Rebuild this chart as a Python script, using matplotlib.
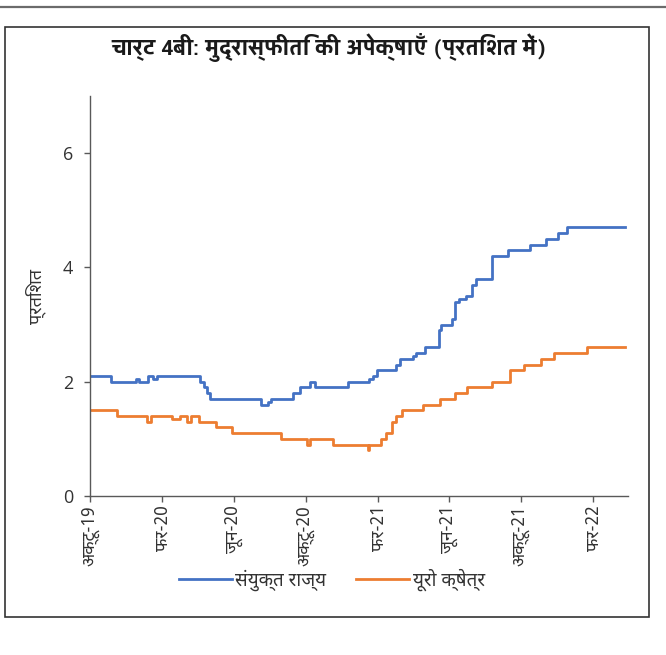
import matplotlib
matplotlib.use("Agg")
import matplotlib.pyplot as plt
from matplotlib import font_manager
from matplotlib.patches import Rectangle
import pandas as pd

# step-wise inflation expectations, dates where the value changes
us_dates = ["2019-10-01", "2019-11-06", "2019-12-18", "2019-12-23", "2020-01-08", "2020-01-16",
            "2020-01-23", "2020-04-05", "2020-04-11", "2020-04-17", "2020-04-21", "2020-07-18",
            "2020-07-29", "2020-08-03", "2020-09-10", "2020-09-21", "2020-10-09", "2020-10-17",
            "2020-12-11", "2021-01-17", "2021-01-23", "2021-01-30", "2021-03-04", "2021-03-10",
            "2021-04-01", "2021-04-07", "2021-04-21", "2021-05-15", "2021-05-19", "2021-06-06",
            "2021-06-12", "2021-06-19", "2021-06-30", "2021-07-10", "2021-07-17", "2021-08-14",
            "2021-09-09", "2021-10-17", "2021-11-13", "2021-12-04", "2021-12-19", "2022-03-27"]
us_vals = [2.1, 2.0, 2.05, 2.0, 2.1, 2.05, 2.1, 2.0, 1.9, 1.8, 1.7, 1.6, 1.65, 1.7, 1.8, 1.9,
           2.0, 1.9, 2.0, 2.05, 2.1, 2.2, 2.3, 2.4, 2.45, 2.5, 2.6, 2.9, 3.0, 3.1, 3.4, 3.45,
           3.5, 3.7, 3.8, 4.2, 4.3, 4.4, 4.5, 4.6, 4.7, 4.7]

ea_dates = ["2019-10-01", "2019-11-16", "2020-01-05", "2020-01-13", "2020-02-17", "2020-03-02",
            "2020-03-14", "2020-03-21", "2020-04-03", "2020-05-01", "2020-05-29", "2020-08-20",
            "2020-10-03", "2020-10-08", "2020-11-16", "2021-01-14", "2021-01-17", "2021-02-05",
            "2021-02-15", "2021-02-25", "2021-03-04", "2021-03-14", "2021-04-18", "2021-05-17",
            "2021-06-11", "2021-07-02", "2021-08-14", "2021-09-13", "2021-10-07", "2021-11-04",
            "2021-11-26", "2022-01-22", "2022-03-27"]
ea_vals = [1.5, 1.4, 1.3, 1.4, 1.35, 1.4, 1.3, 1.4, 1.3, 1.2, 1.1, 1.0, 0.9, 1.0, 0.9, 0.8,
           0.9, 1.0, 1.1, 1.3, 1.4, 1.5, 1.6, 1.7, 1.8, 1.9, 2.0, 2.2, 2.3, 2.4, 2.5, 2.6, 2.6]

tick_dates = ["2019-10-01", "2020-02-01", "2020-06-01", "2020-10-01",
              "2021-02-01", "2021-06-01", "2021-10-01", "2022-02-01"]
tick_labels = ["अक्टू-19", "फर-20", "जून-20", "अक्टू-20",
               "फर-21", "जून-21", "अक्टू-21", "फर-22"]
series_names = ["संयुक्त राज्य", "यूरो क्षेत्र"]
title = "चार्ट 4बी: मुद्रास्फीति की अपेक्षाएँ (प्रतिशत में)"
ylabel = "प्रतिशत"

# pick fonts that have Devanagari glyphs
installed = {f.name for f in font_manager.fontManager.ttflist}
deva = next((n for n in ["Noto Sans Devanagari", "Hind", "Mukta", "Yantramanav"]
             if n in installed), "DejaVu Sans")
deva_bold = next((n for n in ["Yantramanav", "Hind", "Mukta"] if n in installed), deva)
plt.rcParams["font.family"] = ["Open Sans", deva, "DejaVu Sans"]

fig = plt.figure(figsize=(6.66, 6.55), dpi=100)

# page rule and chart frame
fig.add_artist(plt.Line2D([0, 1], [1 - 6.5 / 655, 1 - 6.5 / 655], transform=fig.transFigure,
                          color="#6b6b6b", lw=1.6))
fig.add_artist(Rectangle((5 / 666, 1 - 617 / 655), 644 / 666, 590 / 655,
                         transform=fig.transFigure, fill=False, ec="#333333", lw=1.2))

ax = fig.add_axes([90 / 666, 1 - 496 / 655, 538 / 666, 400 / 655])

us_x = pd.to_datetime(us_dates)
ea_x = pd.to_datetime(ea_dates)
ax.step(us_x, us_vals, where="post", color="#4472C4", lw=2.0, label=series_names[0])
ax.step(ea_x, ea_vals, where="post", color="#ED7D31", lw=2.0, label=series_names[1])

ax.set_xlim(pd.Timestamp("2019-10-01"), pd.Timestamp("2022-04-01"))
ax.set_ylim(0, 7)
ax.set_yticks([0, 2, 4, 6])
ax.set_xticks(pd.to_datetime(tick_dates))
ax.set_xticklabels(tick_labels, rotation=90, family=[deva, "DejaVu Sans"], fontsize=12.5)

for s in ["top", "right"]:
    ax.spines[s].set_visible(False)
for s in ["left", "bottom"]:
    ax.spines[s].set_color("#595959")
    ax.spines[s].set_linewidth(1.0)
ax.tick_params(axis="both", colors="#595959", labelcolor="#333333", length=4, width=1.0)
ax.tick_params(axis="y", labelsize=13, pad=8)
ax.tick_params(axis="x", pad=3)

ax.set_ylabel(ylabel, family=[deva, "DejaVu Sans"], fontsize=13, color="#333333", labelpad=12)

fig.text(329 / 666, 1 - 48 / 655, title, ha="center", va="center", fontsize=16.8,
         fontweight="bold", family=[deva_bold, deva, "DejaVu Sans"], color="#1a1a1a")

fig.legend(loc="center", bbox_to_anchor=(332 / 666, 1 - 580 / 655), ncol=2, frameon=False,
           prop={"family": [deva, "DejaVu Sans"], "size": 13.5}, handlelength=2.8,
           handletextpad=0.2, columnspacing=1.6, labelcolor="#333333")

fig.savefig("out.png", dpi=100)
